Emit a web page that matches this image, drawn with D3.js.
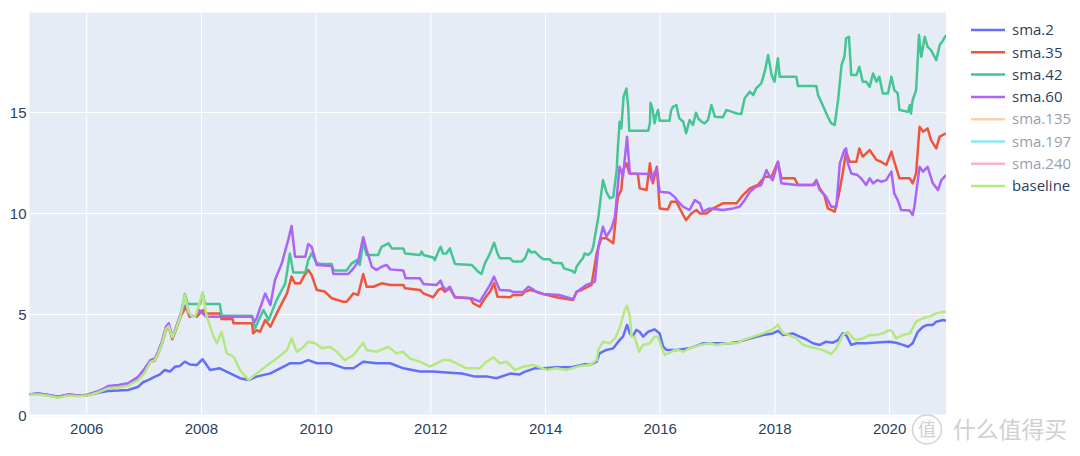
<!DOCTYPE html>
<html>
<head>
<meta charset="utf-8">
<script src="https://cdn.jsdelivr.net/npm/d3@7"></script>
<style>
  body { margin: 0; background: #fff; }
  #chart { width: 1080px; height: 456px; }
</style>
</head>
<body>
<div id="chart"></div>
<script>
{
  // values, x in decimal years
  const sma2 = [[2005.01,1.02],[2005.16,1.06],[2005.34,0.99],[2005.51,0.9],[2005.69,1.0],[2005.86,0.96],[2006.01,0.98],[2006.21,1.1],[2006.38,1.19],[2006.56,1.21],[2006.73,1.24],[2006.91,1.4],[2006.99,1.62],[2007.08,1.73],[2007.2,1.9],[2007.28,2.0],[2007.37,2.23],[2007.46,2.15],[2007.55,2.39],[2007.63,2.42],[2007.72,2.64],[2007.81,2.5],[2007.93,2.48],[2008.03,2.76],[2008.16,2.23],[2008.33,2.31],[2008.51,2.06],[2008.68,1.82],[2008.83,1.73],[2008.97,1.9],[2009.21,2.06],[2009.38,2.31],[2009.55,2.56],[2009.73,2.56],[2009.87,2.72],[2010.02,2.56],[2010.25,2.56],[2010.51,2.31],[2010.66,2.31],[2010.83,2.64],[2011.06,2.56],[2011.3,2.56],[2011.53,2.31],[2011.82,2.15],[2012.05,2.15],[2012.28,2.1],[2012.55,2.05],[2012.78,1.9],[2013.0,1.9],[2013.15,1.82],[2013.39,2.05],[2013.55,2.0],[2013.65,2.15],[2013.82,2.31],[2013.97,2.31],[2014.2,2.36],[2014.46,2.36],[2014.69,2.52],[2014.78,2.48],[2014.9,2.64],[2014.95,3.05],[2015.07,3.22],[2015.19,3.3],[2015.3,3.71],[2015.36,3.88],[2015.43,4.46],[2015.48,4.04],[2015.53,3.88],[2015.59,4.21],[2015.65,4.12],[2015.71,3.88],[2015.8,4.12],[2015.91,4.24],[2016.0,4.04],[2016.06,3.38],[2016.12,3.22],[2016.29,3.22],[2016.52,3.3],[2016.75,3.55],[2017.0,3.55],[2017.22,3.55],[2017.39,3.63],[2017.57,3.79],[2017.8,3.96],[2017.97,4.04],[2018.06,4.17],[2018.15,3.96],[2018.32,4.04],[2018.44,3.88],[2018.55,3.75],[2018.67,3.55],[2018.79,3.47],[2018.9,3.63],[2019.02,3.58],[2019.11,3.71],[2019.19,4.04],[2019.25,3.96],[2019.34,3.47],[2019.43,3.55],[2019.6,3.55],[2019.78,3.59],[2020.01,3.63],[2020.12,3.58],[2020.24,3.47],[2020.33,3.38],[2020.41,3.55],[2020.5,4.12],[2020.59,4.37],[2020.67,4.46],[2020.76,4.46],[2020.82,4.62],[2020.94,4.7],[2020.99,4.67]];

  const sma35 = [[2005.01,1.0],[2005.16,1.04],[2005.34,0.97],[2005.51,0.88],[2005.69,1.0],[2005.86,0.95],[2006.01,0.97],[2006.21,1.13],[2006.38,1.36],[2006.56,1.4],[2006.73,1.48],[2006.91,1.78],[2007.02,2.15],[2007.12,2.62],[2007.2,2.7],[2007.25,3.0],[2007.32,3.5],[2007.39,4.2],[2007.44,4.4],[2007.5,3.75],[2007.57,4.25],[2007.65,4.9],[2007.74,5.35],[2007.8,4.87],[2007.93,4.87],[2008.0,5.1],[2008.04,5.2],[2008.07,5.03],[2008.33,5.03],[2008.36,4.75],[2008.55,4.75],[2008.57,4.54],[2008.89,4.54],[2008.91,4.04],[2008.97,4.2],[2009.03,4.12],[2009.12,4.7],[2009.21,4.37],[2009.32,5.03],[2009.5,6.02],[2009.58,6.85],[2009.64,6.52],[2009.73,6.52],[2009.79,6.85],[2009.87,7.18],[2009.93,6.93],[2010.02,6.19],[2010.16,6.11],[2010.28,5.78],[2010.48,5.61],[2010.54,5.61],[2010.66,6.02],[2010.74,5.94],[2010.83,6.98],[2010.89,6.35],[2011.01,6.35],[2011.15,6.52],[2011.3,6.44],[2011.53,6.44],[2011.56,6.27],[2011.82,6.19],[2011.88,6.02],[2012.05,5.83],[2012.14,6.19],[2012.2,6.27],[2012.25,6.11],[2012.34,6.27],[2012.43,5.83],[2012.7,5.78],[2012.75,5.53],[2012.86,5.36],[2012.95,5.78],[2013.04,6.11],[2013.11,6.52],[2013.17,5.86],[2013.39,5.83],[2013.44,5.94],[2013.59,5.94],[2013.65,6.11],[2013.74,6.19],[2013.85,6.11],[2013.97,5.99],[2014.2,5.83],[2014.49,5.69],[2014.55,6.11],[2014.64,6.19],[2014.81,6.44],[2014.9,8.0],[2014.98,8.75],[2015.07,8.75],[2015.19,8.5],[2015.27,10.8],[2015.33,11.14],[2015.36,12.13],[2015.42,12.46],[2015.47,11.96],[2015.62,11.93],[2015.65,11.22],[2015.77,11.14],[2015.83,12.46],[2015.88,11.47],[2015.95,12.29],[2016.0,10.23],[2016.14,10.18],[2016.2,10.56],[2016.29,10.56],[2016.41,9.9],[2016.46,9.65],[2016.55,9.98],[2016.64,10.15],[2016.7,9.98],[2016.81,9.98],[2016.93,10.23],[2017.1,10.48],[2017.34,10.48],[2017.45,10.89],[2017.57,11.22],[2017.71,11.39],[2017.83,11.8],[2017.95,11.8],[2018.06,12.54],[2018.12,11.72],[2018.35,11.72],[2018.41,11.39],[2018.67,11.39],[2018.73,11.63],[2018.79,11.22],[2018.87,10.89],[2018.93,10.23],[2019.05,10.07],[2019.11,10.73],[2019.19,11.96],[2019.25,13.04],[2019.31,12.54],[2019.43,12.54],[2019.48,13.2],[2019.54,12.79],[2019.66,13.12],[2019.72,12.87],[2019.78,12.63],[2019.86,12.54],[2019.95,12.38],[2020.04,13.04],[2020.09,12.54],[2020.18,11.72],[2020.36,11.72],[2020.41,11.47],[2020.47,11.96],[2020.53,14.27],[2020.59,14.03],[2020.67,14.19],[2020.73,13.61],[2020.82,13.2],[2020.88,13.78],[2020.99,13.94]];

  const sma42 = [[2005.01,1.01],[2005.16,1.05],[2005.34,0.98],[2005.51,0.88],[2005.69,1.01],[2005.86,0.95],[2006.01,1.0],[2006.21,1.18],[2006.38,1.38],[2006.56,1.43],[2006.73,1.5],[2006.91,1.82],[2007.02,2.2],[2007.12,2.65],[2007.2,2.76],[2007.25,3.06],[2007.32,3.55],[2007.39,4.3],[2007.44,4.45],[2007.5,3.82],[2007.57,4.33],[2007.65,5.0],[2007.72,5.99],[2007.77,5.5],[2007.99,5.5],[2008.03,6.05],[2008.07,5.5],[2008.33,5.5],[2008.36,4.92],[2008.89,4.92],[2008.94,4.29],[2009.09,5.2],[2009.18,4.7],[2009.32,5.7],[2009.47,6.52],[2009.55,8.0],[2009.61,7.05],[2009.82,7.05],[2009.87,7.67],[2009.93,8.0],[2010.02,7.51],[2010.11,7.48],[2010.28,7.48],[2010.31,7.15],[2010.54,7.15],[2010.63,7.51],[2010.72,7.67],[2010.77,7.43],[2010.83,8.58],[2010.89,7.92],[2011.09,7.92],[2011.15,8.33],[2011.27,8.5],[2011.33,8.25],[2011.53,8.25],[2011.56,8.0],[2011.82,7.92],[2011.85,8.09],[2011.88,7.92],[2012.05,7.8],[2012.08,7.67],[2012.14,8.09],[2012.18,8.33],[2012.22,8.0],[2012.28,8.0],[2012.34,8.25],[2012.43,7.48],[2012.72,7.43],[2012.78,7.26],[2012.83,7.1],[2012.89,6.98],[2012.95,7.51],[2013.04,8.0],[2013.11,8.53],[2013.17,8.0],[2013.21,7.76],[2013.39,7.76],[2013.44,7.6],[2013.59,7.6],[2013.65,7.76],[2013.71,8.2],[2013.76,8.04],[2013.82,8.09],[2013.91,7.84],[2013.97,7.71],[2014.08,7.71],[2014.14,7.54],[2014.29,7.51],[2014.33,7.26],[2014.46,7.15],[2014.52,7.05],[2014.55,7.34],[2014.61,7.59],[2014.66,7.76],[2014.69,8.0],[2014.75,7.92],[2014.81,8.09],[2014.84,8.33],[2014.9,9.32],[2014.93,9.82],[2015.01,11.63],[2015.07,11.05],[2015.13,10.73],[2015.19,10.8],[2015.25,12.13],[2015.27,13.2],[2015.3,14.52],[2015.33,14.19],[2015.37,15.76],[2015.42,16.17],[2015.45,15.26],[2015.47,14.07],[2015.8,14.07],[2015.83,14.44],[2015.84,15.46],[2015.88,15.1],[2015.91,14.44],[2015.94,14.85],[2015.97,15.1],[2016.0,14.57],[2016.17,14.57],[2016.2,15.1],[2016.23,15.26],[2016.29,15.35],[2016.34,14.69],[2016.41,14.52],[2016.46,13.95],[2016.52,14.6],[2016.58,14.36],[2016.63,14.97],[2016.67,14.69],[2016.73,14.52],[2016.78,14.44],[2016.84,14.6],[2016.9,15.35],[2016.96,14.77],[2017.1,14.74],[2017.16,15.1],[2017.25,15.02],[2017.34,14.93],[2017.42,14.9],[2017.48,15.68],[2017.57,16.01],[2017.63,15.84],[2017.68,16.17],[2017.77,16.42],[2017.83,17.0],[2017.89,17.82],[2017.95,16.83],[2018.0,16.5],[2018.06,17.66],[2018.09,16.75],[2018.38,16.75],[2018.41,16.29],[2018.73,16.29],[2018.76,15.84],[2018.84,15.35],[2018.93,14.77],[2018.99,14.44],[2019.05,14.36],[2019.11,15.59],[2019.17,17.33],[2019.22,17.74],[2019.25,18.65],[2019.3,18.73],[2019.34,16.83],[2019.43,16.83],[2019.48,17.24],[2019.54,16.5],[2019.6,16.5],[2019.66,16.25],[2019.72,16.91],[2019.78,16.5],[2019.83,16.75],[2019.89,15.92],[2019.98,15.92],[2020.04,16.75],[2020.09,16.09],[2020.15,15.92],[2020.18,15.1],[2020.33,15.02],[2020.36,15.35],[2020.38,14.93],[2020.41,15.59],[2020.47,16.09],[2020.52,18.81],[2020.56,17.74],[2020.62,18.73],[2020.67,18.23],[2020.73,18.07],[2020.82,17.57],[2020.88,18.32],[2020.94,18.56],[2020.99,18.81]];

  const sma60 = [[2005.01,1.02],[2005.16,1.06],[2005.34,0.99],[2005.51,0.9],[2005.69,1.02],[2005.86,0.96],[2006.01,0.99],[2006.21,1.16],[2006.38,1.43],[2006.56,1.49],[2006.73,1.57],[2006.91,1.9],[2007.02,2.3],[2007.12,2.72],[2007.2,2.8],[2007.25,3.13],[2007.32,3.63],[2007.39,4.37],[2007.44,4.54],[2007.5,3.88],[2007.57,4.37],[2007.65,5.03],[2007.74,5.45],[2007.77,5.3],[2007.8,4.95],[2007.89,4.87],[2007.97,5.2],[2008.04,5.0],[2008.1,4.87],[2008.89,4.87],[2008.93,4.6],[2008.97,4.79],[2009.12,6.02],[2009.21,5.45],[2009.29,6.68],[2009.41,7.51],[2009.52,8.66],[2009.58,9.36],[2009.64,7.84],[2009.82,7.84],[2009.87,8.47],[2009.93,8.33],[2010.02,7.43],[2010.28,7.38],[2010.31,6.98],[2010.57,6.98],[2010.66,7.26],[2010.74,7.59],[2010.83,8.8],[2010.89,8.17],[2010.98,7.34],[2011.06,7.18],[2011.15,7.34],[2011.24,7.43],[2011.3,7.21],[2011.53,7.15],[2011.57,6.77],[2011.82,6.77],[2011.88,6.49],[2012.11,6.44],[2012.18,6.65],[2012.22,6.35],[2012.28,6.19],[2012.34,6.35],[2012.43,5.83],[2012.72,5.78],[2012.86,5.61],[2012.95,6.02],[2013.04,6.44],[2013.11,6.85],[2013.17,6.44],[2013.21,6.19],[2013.39,6.16],[2013.44,6.09],[2013.62,6.09],[2013.71,6.35],[2013.76,6.27],[2013.85,6.09],[2013.97,5.99],[2014.25,5.94],[2014.49,5.73],[2014.55,6.09],[2014.64,6.27],[2014.72,6.44],[2014.81,6.52],[2014.87,6.6],[2014.93,8.33],[2015.01,9.32],[2015.07,8.83],[2015.16,9.24],[2015.22,9.82],[2015.3,12.29],[2015.36,11.8],[2015.43,13.78],[2015.48,11.96],[2015.83,11.93],[2015.86,11.63],[2015.91,12.0],[2015.95,12.21],[2016.0,11.05],[2016.17,11.0],[2016.26,10.8],[2016.32,10.56],[2016.41,10.31],[2016.52,10.15],[2016.61,10.64],[2016.7,10.48],[2016.75,10.07],[2016.87,10.23],[2017.1,10.15],[2017.28,10.23],[2017.39,10.31],[2017.48,10.64],[2017.57,11.05],[2017.68,11.3],[2017.77,11.39],[2017.86,12.13],[2017.92,11.8],[2017.97,11.63],[2018.03,12.21],[2018.06,12.54],[2018.12,11.47],[2018.38,11.39],[2018.7,11.39],[2018.73,11.63],[2018.79,11.14],[2018.9,10.81],[2018.99,10.31],[2019.08,10.31],[2019.14,12.46],[2019.22,13.12],[2019.25,13.2],[2019.28,12.46],[2019.34,11.96],[2019.45,11.88],[2019.51,11.72],[2019.6,11.39],[2019.66,11.72],[2019.72,11.47],[2019.8,11.63],[2019.86,11.55],[2019.95,11.63],[2020.04,12.05],[2020.09,10.97],[2020.15,10.64],[2020.21,10.15],[2020.36,10.12],[2020.41,9.9],[2020.44,10.31],[2020.53,12.29],[2020.59,12.05],[2020.67,12.29],[2020.76,11.47],[2020.85,11.14],[2020.91,11.63],[2020.99,11.88]];

  const baseline = [[2005.01,1.0],[2005.16,1.02],[2005.34,0.95],[2005.51,0.85],[2005.69,0.97],[2005.86,0.93],[2006.01,0.96],[2006.21,1.12],[2006.38,1.32],[2006.56,1.37],[2006.73,1.45],[2006.91,1.73],[2007.02,2.1],[2007.12,2.62],[2007.2,2.72],[2007.25,3.02],[2007.32,3.5],[2007.39,4.25],[2007.44,4.4],[2007.5,3.85],[2007.57,4.3],[2007.65,4.95],[2007.72,5.94],[2007.78,5.13],[2007.85,4.87],[2007.9,4.87],[2007.96,5.4],[2008.03,6.05],[2008.1,4.9],[2008.22,3.88],[2008.28,3.55],[2008.36,4.12],[2008.45,3.05],[2008.57,2.89],[2008.68,2.23],[2008.83,1.73],[2008.97,2.06],[2009.12,2.39],[2009.32,2.8],[2009.5,3.22],[2009.58,3.8],[2009.67,3.13],[2009.76,3.3],[2009.87,3.63],[2009.99,3.55],[2010.11,3.3],[2010.25,3.38],[2010.37,3.13],[2010.51,2.72],[2010.66,2.97],[2010.83,3.58],[2010.89,3.22],[2011.06,3.13],[2011.27,3.38],[2011.41,3.05],[2011.53,3.13],[2011.64,2.8],[2011.82,2.64],[2011.99,2.39],[2012.11,2.56],[2012.22,2.72],[2012.34,2.72],[2012.46,2.56],[2012.63,2.31],[2012.86,2.31],[2012.98,2.64],[2013.1,2.85],[2013.21,2.56],[2013.33,2.64],[2013.47,2.23],[2013.62,2.39],[2013.79,2.48],[2014.03,2.23],[2014.2,2.31],[2014.37,2.23],[2014.61,2.43],[2014.78,2.48],[2014.9,2.72],[2014.93,3.22],[2015.01,3.63],[2015.13,3.55],[2015.22,3.79],[2015.3,4.29],[2015.39,5.2],[2015.43,5.4],[2015.48,4.87],[2015.51,3.88],[2015.56,3.88],[2015.64,3.13],[2015.71,3.47],[2015.83,3.55],[2015.91,3.88],[2015.97,3.88],[2016.03,3.38],[2016.09,2.97],[2016.2,3.13],[2016.29,3.25],[2016.41,3.13],[2016.52,3.3],[2016.7,3.47],[2016.87,3.55],[2016.99,3.47],[2017.16,3.55],[2017.34,3.55],[2017.45,3.71],[2017.63,3.88],[2017.8,4.04],[2017.95,4.21],[2018.06,4.46],[2018.15,4.04],[2018.26,3.96],[2018.38,3.79],[2018.5,3.47],[2018.61,3.38],[2018.73,3.3],[2018.84,3.22],[2018.99,3.02],[2019.08,3.3],[2019.19,3.96],[2019.28,4.12],[2019.37,3.79],[2019.43,3.71],[2019.54,3.79],[2019.66,3.96],[2019.78,3.96],[2019.89,4.04],[2020.01,4.21],[2020.06,4.12],[2020.12,3.79],[2020.24,3.96],[2020.36,4.04],[2020.47,4.62],[2020.59,4.79],[2020.7,4.87],[2020.82,5.03],[2020.94,5.11],[2020.99,5.1]];

  const names = ["sma.2", "sma.35", "sma.42", "sma.60", "sma.135", "sma.197", "sma.240", "baseline"];
  const colors = ["#636efa", "#ef553b", "#45c593", "#ab63fa", "#ffa15a", "#19d3f3", "#ff6692", "#b6e880"];
  const hidden = ["sma.135", "sma.197", "sma.240"];
  const yTicks = [0, 5, 10, 15];
  const xTickYears = [2006, 2008, 2010, 2012, 2014, 2016, 2018, 2020];

  const seriesData = {"sma.2": sma2, "sma.35": sma35, "sma.42": sma42, "sma.60": sma60, "baseline": baseline};

  const width = 1080;
  const height = 456;
  const margin = {top: 12.5, bottom: 39.5, left: 29.5, right: 134};
  const innerW = width - margin.left - margin.right;
  const innerH = height - margin.top - margin.bottom;
  const fontFamily = '"Open Sans", verdana, arial, sans-serif';
  const textColor = "#2a3f5f";

  // decimal year -> Date
  const toDate = y => {
    const yr = Math.floor(y);
    const a = Date.UTC(yr, 0, 1), b = Date.UTC(yr + 1, 0, 1);
    return new Date(a + (y - yr) * (b - a));
  };

  const allX = Object.values(seriesData).flat().map(d => d[0]);
  const xScale = d3.scaleUtc()
    .domain(d3.extent(allX).map(toDate))
    .range([0, innerW]);
  const yScale = d3.scaleLinear()
    .domain([-0.075, 19.93])
    .range([innerH, 0]);

  const svg = d3.select("#chart").append("svg")
    .attr("width", width)
    .attr("height", height)
    .style("font-family", fontFamily);

  const g = svg.append("g")
    .attr("transform", `translate(${margin.left}, ${margin.top})`);

  g.append("rect")
    .attr("width", innerW)
    .attr("height", innerH)
    .style("fill", "#e5ecf6");

  g.append("clipPath")
    .attr("id", "plotclip")
    .append("rect")
    .attr("width", innerW)
    .attr("height", innerH);

  // vertical grid + x labels
  const xAxis = g.append("g")
    .attr("class", "x axis")
    .attr("transform", `translate(0, ${innerH})`)
    .call(d3.axisBottom(xScale)
      .tickValues(xTickYears.map(y => new Date(Date.UTC(y, 0, 1))))
      .tickSize(innerH)
      .tickPadding(0)
      .tickFormat(d3.utcFormat("%Y")));
  xAxis.select(".domain").remove();
  xAxis.selectAll("line")
    .attr("y1", -innerH)
    .attr("y2", 0)
    .style("stroke", "#fff")
    .style("stroke-width", 1);
  xAxis.selectAll("text")
    .attr("y", 0)
    .attr("dy", 0)
    .attr("transform", "translate(0, 17.5)")
    .style("font-size", "15px")
    .style("fill", textColor);

  // horizontal grid + y labels
  const yAxis = g.append("g")
    .attr("class", "y axis")
    .call(d3.axisLeft(yScale)
      .tickValues(yTicks)
      .tickSize(-innerW)
      .tickPadding(3));
  yAxis.select(".domain").remove();
  yAxis.selectAll("line")
    .style("stroke", "#fff")
    .style("stroke-width", d => d === 0 ? 2 : 1);
  yAxis.selectAll("text")
    .attr("dy", "0.35em")
    .style("font-size", "15px")
    .style("fill", textColor);

  const line = d3.line()
    .x(d => xScale(toDate(d[0])))
    .y(d => yScale(d[1]));

  const lines = g.append("g").attr("clip-path", "url(#plotclip)");
  names.forEach((name, i) => {
    if (!seriesData[name]) return;
    lines.append("path")
      .datum(seriesData[name])
      .attr("d", line)
      .style("fill", "none")
      .style("stroke", colors[i])
      .style("stroke-width", 2.5)
      .style("stroke-linejoin", "round");
  });

  // legend
  const legend = svg.append("g")
    .attr("transform", "translate(971, 30)");
  const items = legend.selectAll("g")
    .data(names)
    .join("g")
    .attr("transform", (d, i) => `translate(0, ${i * 22.3})`)
    .style("opacity", d => hidden.includes(d) ? 0.5 : 1);
  items.append("line")
    .attr("x1", 0)
    .attr("x2", 34)
    .style("stroke", (d, i) => colors[i])
    .style("stroke-width", 2.5);
  items.append("text")
    .attr("x", 41)
    .attr("dy", "0.35em")
    .style("font-size", "15px")
    .style("fill", textColor)
    .text(d => d);

  // watermark
  const wm = svg.append("g")
    .style("font-family", '"Noto Sans CJK SC", sans-serif');
  wm.append("circle")
    .attr("cx", 927)
    .attr("cy", 429.5)
    .attr("r", 14.5)
    .style("fill", "none")
    .style("stroke", "#d4d4d4")
    .style("stroke-width", 1.5);
  wm.append("text")
    .attr("x", 927)
    .attr("y", 430)
    .attr("text-anchor", "middle")
    .attr("dy", "0.35em")
    .style("font-size", "18px")
    .style("fill", "#d0d0d0")
    .text("值");
  wm.append("text")
    .attr("x", 953)
    .attr("y", 430)
    .attr("dy", "0.35em")
    .style("font-size", "22.8px")
    .style("fill", "#d0d0d0")
    .text("什么值得买");
}
</script>
</body>
</html>
